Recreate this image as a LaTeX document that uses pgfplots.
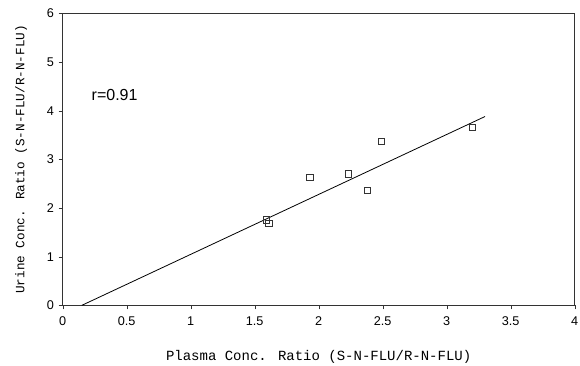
\documentclass[border=0pt]{standalone}
\usepackage{pgfplots}
\pgfplotsset{compat=1.18}
\usepackage{fontspec}
\setmainfont{Liberation Sans}
\newfontfamily\monofont{Liberation Mono}
\begin{document}
\begin{tikzpicture}
\begin{axis}[name=a,
  scale only axis, width=384pt, height=219pt,
  xmin=0, xmax=4, ymin=0, ymax=6,
  xtick={0,0.5,...,4}, ytick={0,1,...,6},
  xticklabels={0,0.5,1,1.5,2,2.5,3,3.5,4},
  tick align=outside, tick pos=left,
  major tick length=3pt,
  axis line style={line width=0.5pt, black!80},
  tick style={black!80},
  ticklabel style={font=\fontsize{9.5}{10}\selectfont},
  xticklabel style={yshift=-2pt},
  /pgf/number format/assume math mode=true,
  xlabel={\monofont Plasma Conc. Ratio (S-N-FLU/R-N-FLU)},
  ylabel={\monofont Urine Conc. Ratio (S-N-FLU/R-N-FLU)},
  xlabel style={font=\fontsize{10.5}{12}\selectfont, yshift=-12pt},
  ylabel style={font=\fontsize{9.5}{11}\selectfont, yshift=8pt},
  clip=false,
]
\addplot[only marks, mark=square, mark size=2.4pt, black!80, mark options={line width=0.5pt}] coordinates {
(1.59,1.76) (1.61,1.69) (1.93,2.63) (2.23,2.70) (2.49,3.37) (2.38,2.36) (3.20,3.66)
};
\addplot[black, line width=0.6pt] coordinates {(0.15,0) (3.30,3.88)};
\node[anchor=west, font=\fontsize{12}{14}\selectfont] at (axis cs:0.19,4.33) {r=0.91};
\end{axis}
\pgfresetboundingbox
\path ([shift={(-47pt,-45pt)}]a.south west) rectangle ([shift={(4pt,10pt)}]a.north east);
\end{tikzpicture}
\end{document}
